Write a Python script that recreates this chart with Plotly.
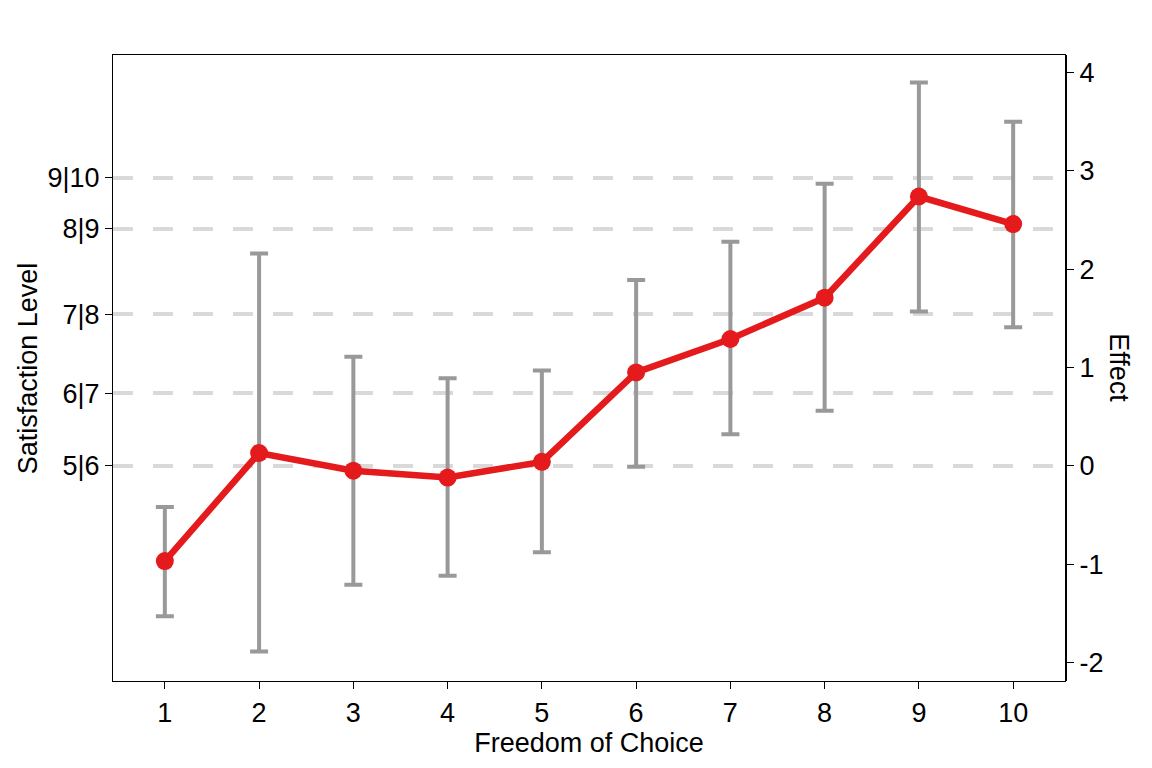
import plotly.graph_objects as go

# estimated effects with interval bounds
choice = [1, 2, 3, 4, 5, 6, 7, 8, 9, 10]
effect = [-0.97, 0.13, -0.05, -0.12, 0.04, 0.95, 1.29, 1.71, 2.74, 2.46]
upper = [-0.42, 2.16, 1.11, 0.89, 0.97, 1.89, 2.28, 2.87, 3.90, 3.50]
lower = [-1.53, -1.89, -1.21, -1.12, -0.88, -0.01, 0.32, 0.56, 1.57, 1.41]

# thresholds between satisfaction levels
cut_vals = [0.0, 0.74, 1.54, 2.41, 2.93]
cut_text = ['5|6', '6|7', '7|8', '8|9', '9|10']

effect_ticks = [-2, -1, 0, 1, 2, 3, 4]
effect_text = ['-2', '-1', '0', '1', '2', '3', '4']

err_plus = [u - e for u, e in zip(upper, effect)]
err_minus = [e - l for e, l in zip(effect, lower)]

FONT = 'Arial, Liberation Sans, sans-serif'
FS = 27
yrange = [-2.19, 4.18]

fig = go.Figure()
fig.add_trace(go.Scatter(
    x=choice, y=effect,
    mode='lines+markers',
    line=dict(color='#E41A1C', width=6.5),
    marker=dict(color='#E41A1C', size=18),
    error_y=dict(type='data', symmetric=False, array=err_plus, arrayminus=err_minus,
                 color='#999999', thickness=4, width=9),
    showlegend=False,
))
# invisible trace to carry the right axis
fig.add_trace(go.Scatter(x=[choice[0]], y=[effect[0]], yaxis='y2', mode='markers',
                         marker=dict(opacity=0), showlegend=False, hoverinfo='skip'))

fig.update_layout(
    width=1152, height=768,
    margin=dict(l=105, r=95, t=47, b=95),
    paper_bgcolor='white', plot_bgcolor='white',
    font=dict(family=FONT, size=FS, color='black'),
    xaxis=dict(
        range=[0.45, 10.55], tickvals=choice, ticks='outside', ticklen=7,
        tickcolor='black', showgrid=False, zeroline=False,
        showline=True, linecolor='black', linewidth=1.3, mirror=True,
        title=dict(text='Freedom of Choice', standoff=3, font=dict(size=FS)),
        tickfont=dict(size=FS),
    ),
    yaxis=dict(
        range=yrange, tickvals=cut_vals, ticktext=cut_text,
        ticks='outside', ticklen=7, tickcolor='black',
        showgrid=True, gridcolor='#D9D9D9', gridwidth=4, griddash='20px,20px',
        zeroline=False, showline=True, linecolor='black', linewidth=1.3, mirror=True,
        tickfont=dict(size=FS),
    ),
    yaxis2=dict(
        range=yrange, tickvals=effect_ticks, ticktext=effect_text,
        overlaying='y', side='right',
        ticks='outside', ticklen=7, tickcolor='black', showgrid=False,
        zeroline=False, showline=True, linecolor='black', linewidth=2,
        tickfont=dict(size=FS),
    ),
    annotations=[
        dict(text='Satisfaction Level', xref='paper', yref='paper', x=-0.089, y=0.5,
             showarrow=False, textangle=-90, xanchor='center', yanchor='middle',
             font=dict(size=FS, family=FONT)),
        dict(text='Effect', xref='paper', yref='paper', x=1.0565, y=0.5,
             showarrow=False, textangle=90, xanchor='center', yanchor='middle',
             font=dict(size=FS, family=FONT)),
    ],
)

fig.write_html('out.html')
